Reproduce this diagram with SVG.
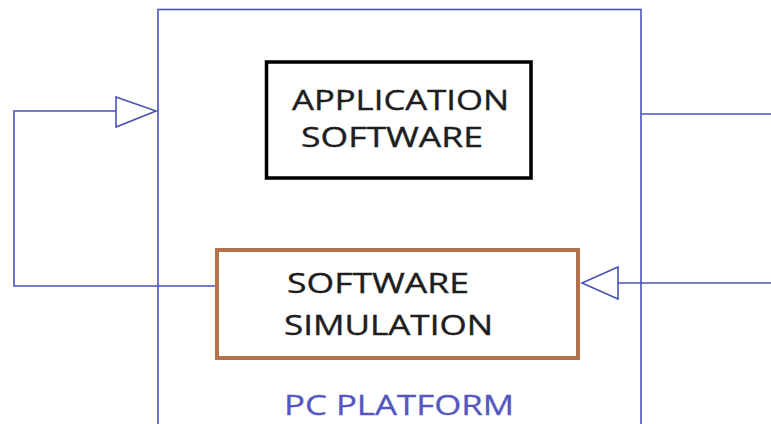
<svg xmlns="http://www.w3.org/2000/svg" width="771" height="424" viewBox="0 0 771 424">
<style>
.ln{fill:none;stroke:#4A52B4;stroke-width:1.6}
.ah{fill:#fff;stroke:#4A52B4;stroke-width:1.6;stroke-linejoin:miter}
.t{font-family:"Open Sans","Liberation Sans",sans-serif;font-size:28px;fill:#1e1e1e;stroke:#1e1e1e;stroke-width:0.4}
.p{font-family:"Open Sans","Liberation Sans",sans-serif;font-size:27px;fill:#5457C0;stroke:#5457C0;stroke-width:0.3}
</style>
<rect width="771" height="424" fill="#fff"/>
<g id="platform">
<rect class="ln" x="158" y="9.5" width="483" height="430"/>
<text class="p" x="284" y="415" textLength="230" lengthAdjust="spacingAndGlyphs">PC PLATFORM</text>
</g>
<g id="connectors">
<polyline class="ln" points="216,286 14,286 14,111 156,111"/>
<polygon class="ah" points="116,97 156,111 116,127"/>
<polyline class="ln" points="641,114 771,114"/>
<polyline class="ln" points="771,283 583,283"/>
<polygon class="ah" points="618,267 582,283 618,299"/>
</g>
<g id="application">
<rect x="266.5" y="62" width="264.5" height="116" fill="#fff" stroke="#000" stroke-width="3.5"/>
<text class="t" x="292" y="110" textLength="217" lengthAdjust="spacingAndGlyphs">APPLICATION</text>
<text class="t" x="301" y="147" textLength="182" lengthAdjust="spacingAndGlyphs">SOFTWARE</text>
</g>
<g id="simulation">
<rect x="217" y="250" width="361" height="108" fill="#fff" stroke="#B5724A" stroke-width="4"/>
<text class="t" x="287" y="293" textLength="182" lengthAdjust="spacingAndGlyphs">SOFTWARE</text>
<text class="t" x="284" y="335" textLength="209" lengthAdjust="spacingAndGlyphs">SIMULATION</text>
</g>
</svg>
